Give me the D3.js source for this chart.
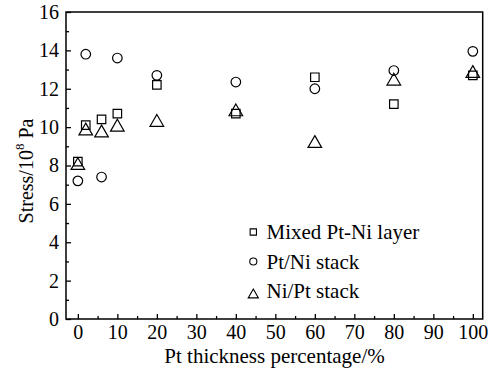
<!DOCTYPE html>
<html>
<head>
<meta charset="utf-8">
<script src="https://cdn.jsdelivr.net/npm/d3@7"></script>
<style>
  html, body { margin: 0; padding: 0; background: #fff; }
  svg { display: block; font-family: "Liberation Serif", "Times New Roman", serif; }
</style>
</head>
<body>
<div id="chart"></div>
<script>
/* Stress vs Pt thickness percentage — scatter, three series */

const thickness = [0, 2, 6, 10, 20, 40, 60, 80, 100];
const mixedLayer = [8.2, 10.1, 10.4, 10.7, 12.2, 10.7, 12.6, 11.2, 12.7];
const ptNiStack = [7.2, 13.8, 7.4, 13.6, 12.7, 12.35, 12.0, 12.95, 13.95];
const niPtStack = [8.1, 9.9, 9.8, 10.1, 10.35, 10.9, 9.25, 12.5, 12.9];

const seriesNames = ["Mixed Pt-Ni layer", "Pt/Ni stack", "Ni/Pt stack"];
const xTicks = [0, 10, 20, 30, 40, 50, 60, 70, 80, 90, 100];
const xMinorTicks = [5, 15, 25, 35, 45, 55, 65, 75, 85, 95];
const yTicks = [0, 2, 4, 6, 8, 10, 12, 14, 16];
const yMinorTicks = [1, 3, 5, 7, 9, 11, 13, 15];

const W = 490, H = 370;
const plot = { left: 66, right: 482.7, top: 12, bottom: 319 };

const svg = d3.select("#chart").append("svg")
  .attr("width", W).attr("height", H)
  .attr("viewBox", `0 0 ${W} ${H}`);

const x = d3.scaleLinear().domain([-3, 102.5]).range([plot.left, plot.right]);
const y = d3.scaleLinear().domain([0, 16]).range([plot.bottom, plot.top]);

/* triangle centred on its bounding box, not its centroid */
const boxTriangle = {
  draw(ctx, size) {
    const s = Math.sqrt(size * 4 / Math.sqrt(3));
    const h = s * Math.sqrt(3) / 2;
    ctx.moveTo(0, -h / 2);
    ctx.lineTo(s / 2, h / 2);
    ctx.lineTo(-s / 2, h / 2);
    ctx.closePath();
  }
};

const series = [
  { name: seriesNames[0], values: mixedLayer, type: d3.symbolSquare, size: 72, legendSize: 40, legendDy: -7 },
  { name: seriesNames[1], values: ptNiStack, type: d3.symbolCircle, size: 72, legendSize: 40, legendDy: -7 },
  { name: seriesNames[2], values: niPtStack, type: boxTriangle, size: 80, legendSize: 45, legendDy: -4.5 }
];

/* Axes */
const axisStyle = sel => {
  sel.selectAll("text")
    .attr("fill", "#000")
    .style("font-size", "20px")
    .style("font-family", "Liberation Serif, serif");
  sel.selectAll("line").attr("stroke", "#000").attr("stroke-width", 1.3);
  sel.select(".domain").remove();
};

svg.append("g")
  .attr("transform", `translate(0,${plot.bottom})`)
  .call(d3.axisBottom(x).tickValues(xTicks).tickSize(-5).tickSizeOuter(0).tickPadding(6))
  .call(axisStyle);

svg.append("g")
  .attr("transform", `translate(0,${plot.bottom})`)
  .call(d3.axisBottom(x).tickValues(xMinorTicks).tickSize(-3).tickSizeOuter(0).tickFormat(""))
  .call(axisStyle);

svg.append("g")
  .attr("transform", `translate(${plot.left},0)`)
  .call(d3.axisLeft(y).tickValues(yTicks).tickSize(-5).tickSizeOuter(0).tickPadding(7))
  .call(axisStyle);

svg.append("g")
  .attr("transform", `translate(${plot.left},0)`)
  .call(d3.axisLeft(y).tickValues(yMinorTicks).tickSize(-3).tickSizeOuter(0).tickFormat(""))
  .call(axisStyle);

/* Frame */
svg.append("rect")
  .attr("x", plot.left).attr("y", plot.top)
  .attr("width", plot.right - plot.left)
  .attr("height", plot.bottom - plot.top)
  .attr("fill", "none")
  .attr("stroke", "#000")
  .attr("stroke-width", 1.5);

/* Axis titles */
svg.append("text")
  .attr("x", 274.5).attr("y", 363)
  .attr("text-anchor", "middle")
  .style("font-size", "21px")
  .text("Pt thickness percentage/%");

const yTitle = svg.append("text")
  .attr("transform", "translate(33,171) rotate(-90)")
  .attr("text-anchor", "middle")
  .style("font-size", "20px");
yTitle.append("tspan").text("Stress/10");
yTitle.append("tspan").attr("dy", -9).style("font-size", "13px").text("8");
yTitle.append("tspan").attr("dy", 9).text("\u00a0Pa");

/* Points */
series.forEach(s => {
  svg.append("g")
    .selectAll("path")
    .data(thickness.map((t, i) => ({ t, v: s.values[i] })))
    .join("path")
      .attr("transform", d => `translate(${x(d.t)},${y(d.v)})`)
      .attr("d", d3.symbol().type(s.type).size(s.size))
      .attr("fill", "none")
      .attr("stroke", "#000")
      .attr("stroke-width", 1.2);
});

/* Legend */
const legendY = d3.scalePoint().domain(seriesNames).range([239, 298]);
const legend = svg.append("g");
series.forEach(s => {
  legend.append("path")
    .attr("transform", `translate(253.3,${legendY(s.name) + s.legendDy})`)
    .attr("d", d3.symbol().type(s.type).size(s.legendSize))
    .attr("fill", "none")
    .attr("stroke", "#000")
    .attr("stroke-width", 1.1);
  legend.append("text")
    .attr("x", 266.5).attr("y", legendY(s.name))
    .style("font-size", "21px")
    .text(s.name);
});
</script>
</body>
</html>
